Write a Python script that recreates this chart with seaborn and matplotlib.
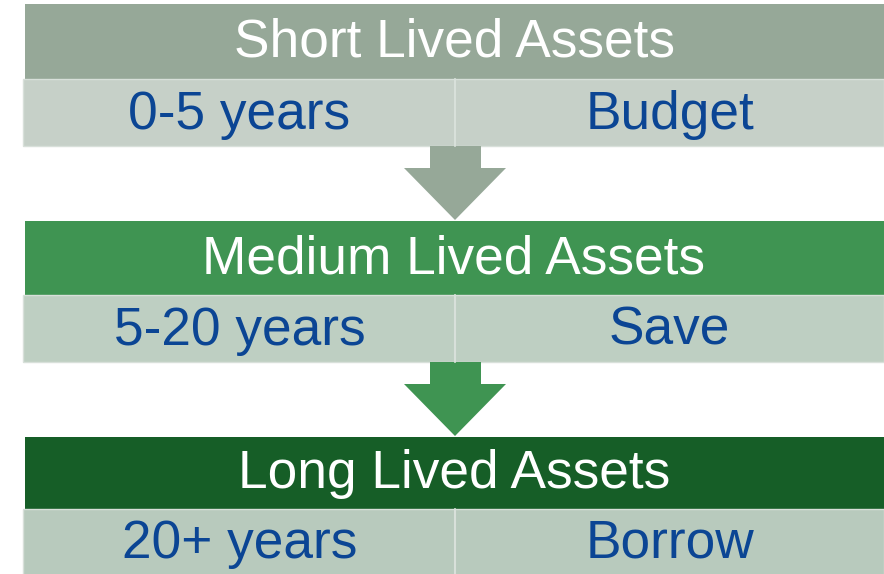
import matplotlib
matplotlib.use("Agg")
import matplotlib.pyplot as plt
from matplotlib.patches import Rectangle, Polygon
import seaborn as sns

# Data
tiers = ["Short Lived Assets", "Medium Lived Assets", "Long Lived Assets"]
lifespans = ["0-5 years", "5-20 years", "20+ years"]
actions = ["Budget", "Save", "Borrow"]

header_colors = ["#96A898", "#3F9452", "#165E27"]
row_colors = ["#C6D0C8", "#BECFC2", "#B8CABD"]
text_blue = "#0B4594"

sns.set_theme(style="white")
plt.rcParams['font.family'] = ['Liberation Sans', 'DejaVu Sans']

fig = plt.figure(figsize=(8.84, 5.74), dpi=100)
ax = fig.add_axes([0, 0, 1, 1])
ax.set_xlim(0, 884)
ax.set_ylim(574, 0)
ax.axis("off")

header_tops = [4, 221, 437]
header_h = [75, 74, 72]
row_h = [67, 67, 66]
left, right, mid = 24, 884, 455

for i, (tier, span, act) in enumerate(zip(tiers, lifespans, actions)):
    ht = header_tops[i]
    ax.add_patch(Rectangle((left + 1, ht), right - left, header_h[i],
                           facecolor=header_colors[i], edgecolor="none"))
    ax.text((left + right) / 2, ht + header_h[i] / 2 + 1, tier, color="white",
            fontsize=38.3, ha="center", va="center")
    rt = ht + header_h[i]
    ax.add_patch(Rectangle((left - 1, rt), right - left + 1, row_h[i],
                           facecolor=row_colors[i], edgecolor="#D8E0DA", lw=1))
    ax.plot([mid, mid], [rt, rt + row_h[i]], color="#D8E0DA", lw=1.5)
    ax.text((left + mid) / 2, rt + row_h[i] / 2 + 2, span, color=text_blue,
            fontsize=38.3, ha="center", va="center")
    ax.text((mid + right) / 2, rt + row_h[i] / 2 + 2, act, color=text_blue,
            fontsize=38.3, ha="center", va="center")
    if i < 2:
        y0 = rt + row_h[i]
        y_tip = header_tops[i + 1] - 1
        cx = 455
        arrow = Polygon([(cx - 25, y0), (cx + 26, y0), (cx + 26, y0 + 22),
                         (cx + 51, y0 + 22), (cx, y_tip), (cx - 51, y0 + 22),
                         (cx - 25, y0 + 22)], closed=True,
                        facecolor=header_colors[i], edgecolor="none")
        ax.add_patch(arrow)

fig.savefig("out.png", dpi=100, facecolor="white")
